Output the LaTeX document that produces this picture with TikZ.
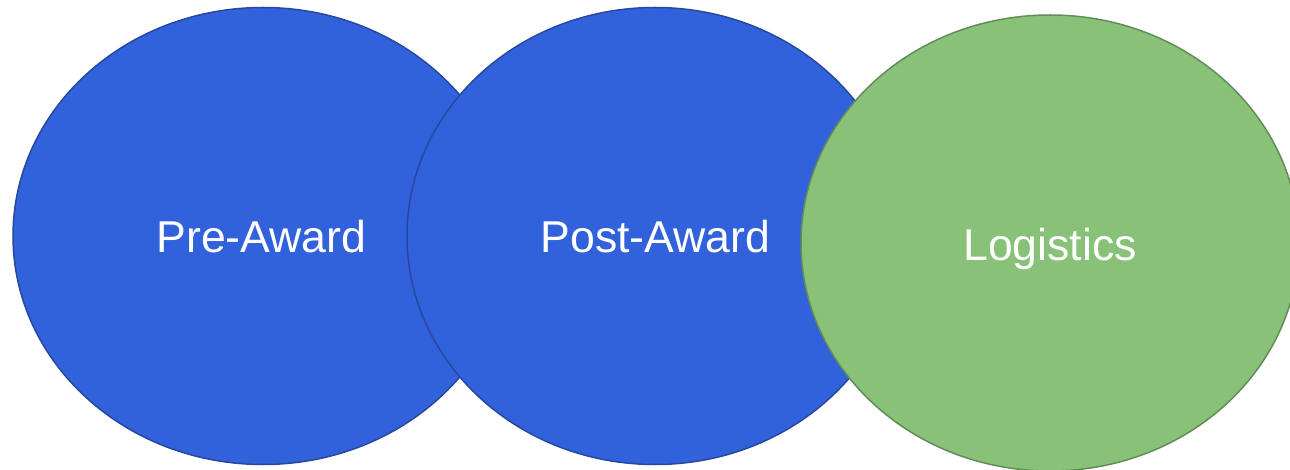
\documentclass[tikz,border=0pt]{standalone}
\usepackage{fontspec}
\setmainfont{Liberation Sans}
\usetikzlibrary{shapes.geometric}
\definecolor{blueFill}{RGB}{50,98,219}
\definecolor{blueLine}{RGB}{40,72,160}
\definecolor{greenFill}{RGB}{136,193,120}
\definecolor{greenLine}{RGB}{100,140,90}
\tikzset{
  bubble/.style={ellipse, inner sep=0pt, outer sep=0pt, line width=1.5pt,
    minimum width=500pt, minimum height=457pt},
  bluebubble/.style={bubble, fill=blueFill, draw=blueLine},
  greenbubble/.style={bubble, fill=greenFill, draw=greenLine, minimum width=498pt, minimum height=456pt},
  lbl/.style={anchor=base, text=white, font=\fontsize{44.6}{52}\selectfont, inner sep=0pt}
}
\begin{document}
\begin{tikzpicture}[x=1pt,y=-1pt]
\useasboundingbox (0,0) rectangle (1290,470);
\node[bluebubble] (pre) at (263,236) {};
\node[bluebubble, minimum width=496pt] (post) at (655,236) {};
\node[greenbubble] (log) at (1050,243) {};
\node[lbl] (tpre) at (261.5,253) {Pre-Award};
\node[lbl] (tpost) at (655.5,253) {Post-Award};
\node[lbl] (tlog) at (1050,261) {Logistics};
\end{tikzpicture}
\end{document}
